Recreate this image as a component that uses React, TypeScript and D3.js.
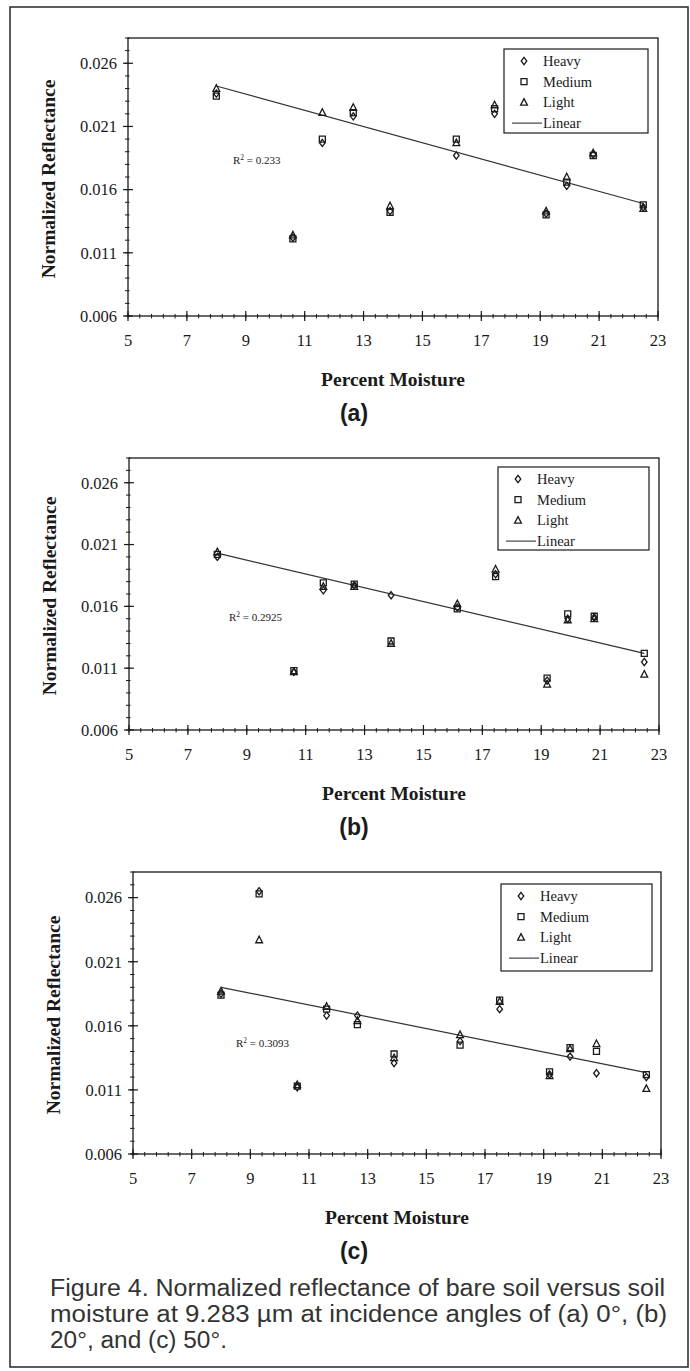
import React, { useEffect, useRef } from 'react';
import * as d3 from 'd3';

// moisture (%) of the soil samples
const moistureAB = [8.0, 10.6, 11.6, 12.65, 13.9, 16.15, 17.45, 19.2, 19.9, 20.8, 22.5];
const moistureC = [8.0, 9.3, 10.6, 11.6, 12.65, 13.9, 16.15, 17.5, 19.2, 19.9, 20.8, 22.5];

// (a) 0 deg
const heavyA = [0.0236, 0.0122, 0.0197, 0.0218, 0.0143, 0.0187, 0.0220, 0.0141, 0.0163, 0.0188, 0.0146];
const mediumA = [0.0234, 0.0121, 0.0200, 0.0221, 0.0142, 0.0200, 0.0224, 0.0140, 0.0166, 0.0187, 0.0148];
const lightA = [0.0240, 0.0124, 0.0221, 0.0225, 0.0147, 0.0197, 0.0227, 0.0143, 0.0170, 0.0189, 0.0145];
const trendA = [[8.0, 0.0242], [22.5, 0.0149]];

// (b) 20 deg
const heavyB = [0.0200, 0.0107, 0.0173, 0.0177, 0.0169, 0.0159, 0.0186, 0.0100, 0.0150, 0.0151, 0.0115];
const mediumB = [0.0202, 0.0108, 0.0179, 0.0178, 0.0132, 0.0158, 0.0184, 0.0102, 0.0154, 0.0152, 0.0122];
const lightB = [0.0204, 0.0107, 0.0176, 0.0176, 0.0130, 0.0162, 0.0190, 0.0097, 0.0149, 0.0150, 0.0105];
const trendB = [[8.0, 0.0203], [22.5, 0.0122]];

// (c) 50 deg
const heavyC = [0.0185, 0.0265, 0.0112, 0.0168, 0.0168, 0.0131, 0.0148, 0.0173, 0.0122, 0.0136, 0.0123, 0.0120];
const mediumC = [0.0184, 0.0263, 0.0113, 0.0173, 0.0161, 0.0138, 0.0145, 0.0180, 0.0124, 0.0143, 0.0140, 0.0122];
const lightC = [0.0187, 0.0227, 0.0114, 0.0175, 0.0164, 0.0135, 0.0153, 0.0179, 0.0121, 0.0142, 0.0146, 0.0111];
const trendC = [[8.0, 0.0190], [22.5, 0.01235]];

const r2Labels = ['0.233', '0.2925', '0.3093'];
const panelLabels = ['(a)', '(b)', '(c)'];
const seriesNames = ['Heavy', 'Medium', 'Light', 'Linear'];
const xTicks = [5, 7, 9, 11, 13, 15, 17, 19, 21, 23];
const yTicks = [0.006, 0.011, 0.016, 0.021, 0.026];

const captionLines = [
    'Figure 4. Normalized reflectance of bare soil versus soil',
    'moisture at 9.283 \u00b5m at incidence angles of (a) 0\u00b0, (b)',
    '20\u00b0, and (c) 50\u00b0.',
];

const SERIF = "'Liberation Serif', 'Times New Roman', serif";
const SANS = "'Liberation Sans', Arial, sans-serif";
const INK = '#1a1a1a';

// page geometry of the three plots (pixels)
const layout = [
    { l: 128, r: 658, t: 38, b: 316, leg: [504, 49, 144, 84], r2: [233, 160] },
    { l: 129, r: 659, t: 458, b: 730, leg: [498, 467, 151, 83], r2: [229, 617] },
    { l: 133, r: 661, t: 872, b: 1154, leg: [501, 884, 151, 87], r2: [236, 1043] },
];

const markerPath = (kind, cx, cy) => {
    if (kind === 0) return `M${cx},${cy - 3.6}L${cx + 2.8},${cy}L${cx},${cy + 3.6}L${cx - 2.8},${cy}Z`;
    if (kind === 1) return `M${cx - 3},${cy - 3}h6v6h-6Z`;
    return `M${cx},${cy - 3.8}L${cx + 3.4},${cy + 2.8}L${cx - 3.4},${cy + 2.8}Z`;
};

const Chart = () => {
    const svgRef = useRef(null);

    useEffect(() => {
        const svg = d3.select(svgRef.current);
        svg.selectAll('*').remove();

        // outer frame
        svg.append('rect')
            .attr('x', 10).attr('y', 7).attr('width', 678).attr('height', 1360)
            .attr('fill', 'none').attr('stroke', '#333').attr('stroke-width', 1.6);

        const panels = [
            { xs: moistureAB, series: [heavyA, mediumA, lightA], trend: trendA },
            { xs: moistureAB, series: [heavyB, mediumB, lightB], trend: trendB },
            { xs: moistureC, series: [heavyC, mediumC, lightC], trend: trendC },
        ];

        panels.forEach((p, i) => {
            const L = layout[i];
            const x = d3.scaleLinear().domain([5, 23]).range([L.l, L.r]);
            const y = d3.scaleLinear().domain([0.006, 0.028]).range([L.b, L.t]);
            const g = svg.append('g');

            // plot box
            g.append('rect')
                .attr('x', L.l).attr('y', L.t).attr('width', L.r - L.l).attr('height', L.b - L.t)
                .attr('fill', 'none').attr('stroke', INK).attr('stroke-width', 1.3);

            // minor ticks
            g.selectAll('.xminor').data(d3.range(5, 23.001, 0.4)).enter().append('line')
                .attr('x1', d => x(d)).attr('x2', d => x(d))
                .attr('y1', L.b - 2).attr('y2', L.b + 2.5)
                .attr('stroke', INK).attr('stroke-width', 1);
            g.selectAll('.yminor').data(d3.range(0.006, 0.02801, 0.001)).enter().append('line')
                .attr('x1', L.l - 3).attr('x2', L.l + 1.5)
                .attr('y1', d => y(d)).attr('y2', d => y(d))
                .attr('stroke', INK).attr('stroke-width', 1);

            // major ticks
            g.selectAll('.xmajor').data(xTicks).enter().append('line')
                .attr('x1', d => x(d)).attr('x2', d => x(d))
                .attr('y1', L.b - 5).attr('y2', L.b + 5)
                .attr('stroke', INK).attr('stroke-width', 1.2);
            g.selectAll('.ymajor').data(yTicks).enter().append('line')
                .attr('x1', L.l - 5).attr('x2', L.l + 5)
                .attr('y1', d => y(d)).attr('y2', d => y(d))
                .attr('stroke', INK).attr('stroke-width', 1.2);

            // tick labels
            g.selectAll('.xlab').data(xTicks).enter().append('text')
                .attr('x', d => x(d)).attr('y', L.b + 24).attr('dy', '0.35em')
                .attr('text-anchor', 'middle')
                .style('font-family', SERIF).style('font-size', '16.5px').attr('fill', INK)
                .text(d => d);
            g.selectAll('.ylab').data(yTicks).enter().append('text')
                .attr('x', L.l - 11).attr('y', d => y(d)).attr('dy', '0.35em')
                .attr('text-anchor', 'end')
                .style('font-family', SERIF).style('font-size', '16.5px').attr('fill', INK)
                .text(d => d3.format('.3f')(d));

            // axis titles
            g.append('text')
                .attr('x', (L.l + L.r) / 2).attr('y', L.b + 63).attr('dy', '0.35em')
                .attr('text-anchor', 'middle')
                .style('font-family', SERIF).style('font-size', '19.5px').style('font-weight', 'bold')
                .attr('fill', INK)
                .text('Percent Moisture');
            g.append('text')
                .attr('transform', `translate(${L.l - 80},${(L.t + L.b) / 2 + 2}) rotate(-90)`)
                .attr('dy', '0.35em')
                .attr('text-anchor', 'middle')
                .style('font-family', SERIF).style('font-size', '19.5px').style('font-weight', 'bold')
                .attr('fill', INK)
                .text('Normalized Reflectance');

            // panel letter
            g.append('text')
                .attr('x', 354).attr('y', L.b + 97).attr('dy', '0.35em')
                .attr('text-anchor', 'middle')
                .style('font-family', SANS).style('font-size', '23px').style('font-weight', 'bold')
                .attr('fill', INK)
                .text(panelLabels[i]);

            // trend line
            g.append('path')
                .attr('d', d3.line().x(d => x(d[0])).y(d => y(d[1]))(p.trend))
                .attr('fill', 'none').attr('stroke', '#333').attr('stroke-width', 1.2);

            // points
            p.series.forEach((vals, k) => {
                g.selectAll(`.pt${k}`).data(vals).enter().append('path')
                    .attr('d', (v, j) => markerPath(k, x(p.xs[j]), y(v)))
                    .attr('fill', 'none').attr('stroke', INK).attr('stroke-width', 1.3);
            });

            // R squared
            const r2 = g.append('text')
                .attr('x', L.r2[0]).attr('y', L.r2[1]).attr('dy', '0.35em')
                .style('font-family', SERIF).style('font-size', '11px').attr('fill', INK);
            r2.append('tspan').text('R');
            r2.append('tspan').attr('dy', '-4').style('font-size', '7.5px').text('2');
            r2.append('tspan').attr('dy', '4').text(` = ${r2Labels[i]}`);

            // legend
            const [lx, ly, lw, lh] = L.leg;
            g.append('rect')
                .attr('x', lx).attr('y', ly).attr('width', lw).attr('height', lh)
                .attr('fill', '#fff').attr('stroke', INK).attr('stroke-width', 1.2);
            seriesNames.forEach((name, k) => {
                const ey = ly + 12 + k * 20.7;
                if (k < 3) {
                    g.append('path')
                        .attr('d', markerPath(k, lx + 20, ey))
                        .attr('fill', 'none').attr('stroke', INK).attr('stroke-width', 1.3);
                } else {
                    g.append('line')
                        .attr('x1', lx + 8).attr('x2', lx + 38).attr('y1', ey).attr('y2', ey)
                        .attr('stroke', '#333').attr('stroke-width', 1.1);
                }
                g.append('text')
                    .attr('x', lx + 39).attr('y', ey).attr('dy', '0.35em')
                    .style('font-family', SERIF).style('font-size', '14.5px').attr('fill', INK)
                    .text(name);
            });
        });

        // figure caption
        const capWidths = [615, 617, 177];
        const capBase = [1296, 1322, 1348];
        captionLines.forEach((line, i) => {
            svg.append('text')
                .attr('x', 50).attr('y', capBase[i])
                .attr('textLength', capWidths[i]).attr('lengthAdjust', 'spacingAndGlyphs')
                .style('font-family', SANS).style('font-size', '23.5px')
                .attr('fill', '#333')
                .text(line);
        });
    }, []);

    return (
        <svg ref={svgRef} width={690} height={1371}
            style={{ position: 'absolute', left: 0, top: 0, display: 'block', background: '#fff' }} />
    );
};

export default function App() {
    return <Chart />;
}
